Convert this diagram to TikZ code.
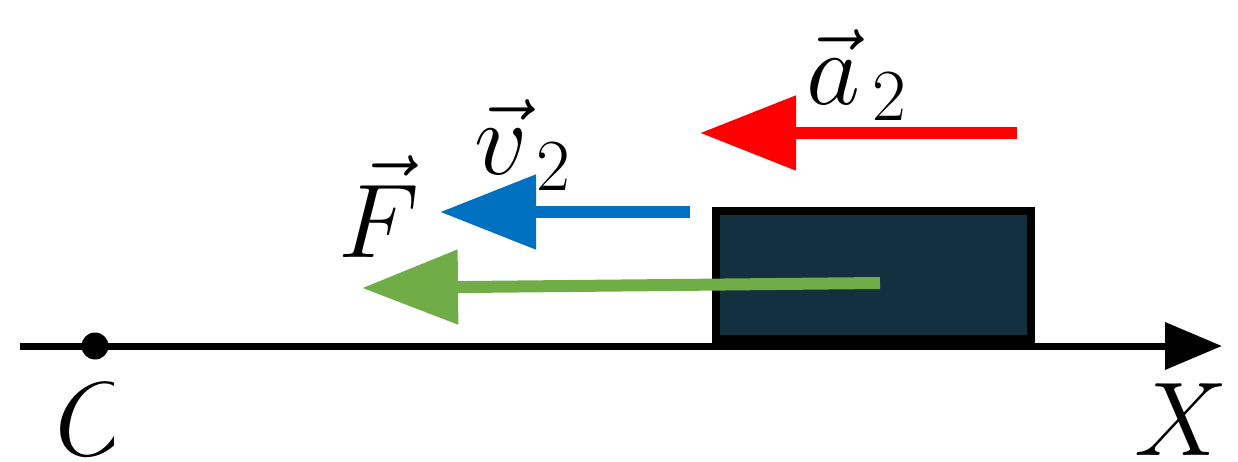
\documentclass[tikz,border=0pt]{standalone}
\usepackage{fix-cm}
\usetikzlibrary{arrows.meta}
\definecolor{boxfill}{HTML}{12303F}
\definecolor{vred}{HTML}{FF0000}
\definecolor{vblue}{HTML}{0070C0}
\definecolor{vgreen}{HTML}{70AD47}
\begin{document}
\begin{tikzpicture}[x=1pt,y=-1pt,
  vec/.style={line width=12pt,-{Triangle[length=96pt,width=72pt]}},
  lbl/.style={inner sep=0pt,font=\fontsize{105}{110}\selectfont}]
\useasboundingbox (0,0) rectangle (1238,462);
% axis
\coordinate (a0) at (20,346);
\coordinate (a1) at (1222,346);
\draw[line width=7pt,-{Triangle[length=57pt,width=46pt]}] (a0) -- (a1);
\node[circle,fill=black,minimum size=27pt,inner sep=0pt] (O) at (95,346) {};
\begin{scope}
\clip (0,370) rectangle (113,462);
\node[lbl,anchor=base west] (Olbl) at (55,455) {$O$};
\end{scope}
\node[lbl,anchor=base west] (X) at (1134,455) {$X$};
% block
\draw[line width=8pt,fill=boxfill] (716,211) rectangle (1031,339);
\coordinate (blk) at (880,283);
% vectors
\coordinate (r0) at (1017,133); \coordinate (r1) at (700,133);
\draw[vec,vred] (r0) -- (r1);
\coordinate (b0) at (690,212); \coordinate (b1) at (440,212);
\draw[vec,vblue] (b0) -- (b1);
\coordinate (g1) at (362,288);
\draw[vec,vgreen] (blk) -- (g1);
% labels
\node[lbl,anchor=base west] (albl) at (806,105) {$\vec a_{\,2}$};
\node[lbl,anchor=base west] (vlbl) at (474,175) {$\vec v_{\,2}$};
\node[lbl,anchor=base west] (Flbl) at (338,257) {$\vec F$};
\end{tikzpicture}
\end{document}
